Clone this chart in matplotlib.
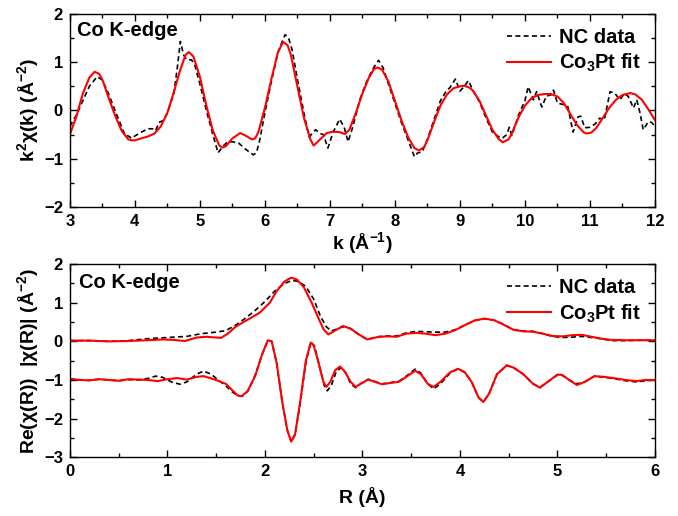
import matplotlib
matplotlib.use("Agg")
import matplotlib.pyplot as plt
from matplotlib import font_manager
from matplotlib.ticker import MultipleLocator

# buscar una sans con negrita real instalada
bold_family = 'DejaVu Sans'
for fam in ['Liberation Sans', 'Arimo', 'Roboto', 'Noto Sans', 'Open Sans', 'Lato']:
    if any(f.name == fam and f.weight in (700, 'bold') and f.style == 'normal'
           for f in font_manager.fontManager.ttflist):
        bold_family = fam
        break

plt.rcParams['font.family'] = [bold_family, 'DejaVu Sans']
plt.rcParams['font.weight'] = 'bold'
plt.rcParams['mathtext.fontset'] = 'custom'
plt.rcParams['mathtext.rm'] = bold_family + ':bold'
plt.rcParams['mathtext.bf'] = bold_family + ':bold'
plt.rcParams['mathtext.it'] = bold_family + ':bold'
plt.rcParams['mathtext.default'] = 'bf'

# ---- k-space: datos NC (negro) ----
k_data = [3.0, 3.1, 3.2, 3.3, 3.42, 3.5, 3.6, 3.7, 3.8, 3.85, 3.9, 3.95, 4.0, 4.1, 4.2,
          4.27, 4.32, 4.37, 4.45, 4.5, 4.6, 4.65, 4.7, 4.75, 4.8, 4.87, 4.92, 5.0, 5.1,
          5.2, 5.28, 5.35, 5.42, 5.5, 5.6, 5.7, 5.82, 5.87, 5.92, 6.0, 6.1, 6.2, 6.31,
          6.36, 6.42, 6.5, 6.6, 6.68, 6.78, 6.85, 6.9, 6.97, 7.05, 7.15, 7.22, 7.28,
          7.35, 7.46, 7.55, 7.62, 7.68, 7.75, 7.82, 7.9, 8.0, 8.1, 8.2, 8.3, 8.35, 8.42,
          8.5, 8.6, 8.7, 8.78, 8.85, 8.93, 9.0, 9.07, 9.13, 9.2, 9.3, 9.4, 9.5, 9.6,
          9.65, 9.72, 9.76, 9.8, 9.9, 10.0, 10.05, 10.13, 10.18, 10.26, 10.33, 10.4,
          10.44, 10.5, 10.6, 10.66, 10.74, 10.82, 10.86, 10.92, 11.0, 11.08, 11.15,
          11.22, 11.31, 11.38, 11.46, 11.53, 11.59, 11.67, 11.72, 11.77, 11.82, 11.9,
          11.95, 12.0]
chi_data = [-0.33, -0.1, 0.2, 0.5, 0.7, 0.63, 0.33, -0.02, -0.35, -0.52, -0.53, -0.58, -0.53,
            -0.45, -0.38, -0.38, -0.42, -0.25, -0.2, -0.05, 0.35, 0.85, 1.43, 1.15, 1.05,
            1.05, 0.95, 0.55, 0.0, -0.5, -0.88, -0.75, -0.66, -0.65, -0.68, -0.8, -0.92,
            -0.88, -0.62, -0.05, 0.6, 1.2, 1.57, 1.52, 1.25, 0.65, -0.05, -0.55, -0.4, -0.48,
            -0.5, -0.78, -0.45, -0.18, -0.35, -0.65, -0.35, 0.22, 0.55, 0.75, 0.9, 1.04,
            0.88, 0.55, 0.15, -0.25, -0.6, -0.96, -0.88, -0.86, -0.6, -0.2, 0.2, 0.38, 0.48,
            0.65, 0.4, 0.5, 0.62, 0.42, 0.18, -0.15, -0.45, -0.55, -0.58, -0.5, -0.35,
            -0.52, -0.1, 0.2, 0.49, 0.22, 0.39, 0.07, 0.3, 0.32, 0.42, 0.15, 0.12, 0.08,
            -0.45, -0.13, -0.12, -0.36, -0.35, -0.28, -0.16, -0.2, 0.39, 0.36, 0.22, 0.35,
            0.29, 0.05, 0.22, -0.05, -0.4, -0.23, -0.25, -0.33]

# ---- k-space: ajuste Co3Pt (rojo) ----
k_fit = [3.0, 3.1, 3.2, 3.3, 3.38, 3.45, 3.5, 3.6, 3.7, 3.8, 3.9, 3.95, 4.0, 4.1, 4.2, 4.3,
         4.4, 4.5, 4.6, 4.7, 4.78, 4.83, 4.9, 5.0, 5.1, 5.2, 5.3, 5.35, 5.4, 5.5, 5.62,
         5.7, 5.8, 5.85, 5.9, 6.0, 6.1, 6.2, 6.28, 6.35, 6.4, 6.5, 6.6, 6.7, 6.75, 6.85,
         6.95, 7.05, 7.15, 7.23, 7.3, 7.4, 7.5, 7.6, 7.68, 7.73, 7.8, 7.9, 8.0, 8.1, 8.2,
         8.3, 8.37, 8.45, 8.5, 8.6, 8.7, 8.8, 8.9, 9.0, 9.07, 9.15, 9.2, 9.3, 9.4, 9.5,
         9.6, 9.66, 9.75, 9.8, 9.9, 10.0, 10.1, 10.2, 10.3, 10.4, 10.5, 10.6, 10.7, 10.8,
         10.9, 10.95, 11.02, 11.1, 11.2, 11.3, 11.4, 11.5, 11.62, 11.7, 11.8, 11.9, 12.0]
chi_fit = [-0.5, -0.13, 0.35, 0.68, 0.8, 0.76, 0.64, 0.25, -0.12, -0.43, -0.6, -0.62, -0.62,
           -0.58, -0.54, -0.48, -0.33, -0.05, 0.38, 0.85, 1.15, 1.21, 1.12, 0.7, 0.1, -0.42,
           -0.73, -0.77, -0.74, -0.58, -0.47, -0.52, -0.6, -0.58, -0.45, 0.05, 0.65, 1.2,
           1.42, 1.35, 1.15, 0.5, -0.15, -0.6, -0.73, -0.6, -0.47, -0.44, -0.45, -0.49,
           -0.4, -0.05, 0.35, 0.68, 0.86, 0.89, 0.85, 0.6, 0.2, -0.2, -0.55, -0.78, -0.83,
           -0.76, -0.62, -0.25, 0.1, 0.33, 0.46, 0.5, 0.51, 0.47, 0.41, 0.2, -0.1, -0.4,
           -0.6, -0.66, -0.6, -0.47, -0.15, 0.1, 0.25, 0.32, 0.34, 0.34, 0.29, 0.15, -0.08,
           -0.3, -0.45, -0.48, -0.46, -0.36, -0.15, 0.06, 0.22, 0.32, 0.36, 0.33, 0.22,
           0.02, -0.2]

# ---- R-space: |chi(R)| ----
r_mag_data = [0.0, 0.2, 0.4, 0.6, 0.8, 1.0, 1.2, 1.35, 1.5, 1.6, 1.7, 1.8, 1.9, 2.0, 2.1,
              2.2, 2.28, 2.35, 2.42, 2.5, 2.57, 2.63, 2.68, 2.75, 2.8, 2.88, 2.95, 3.05,
              3.15, 3.25, 3.35, 3.45, 3.55, 3.65, 3.75, 3.85, 3.95, 4.05, 4.15, 4.25, 4.35,
              4.45, 4.55, 4.65, 4.75, 4.85, 4.95, 5.05, 5.15, 5.25, 5.35, 5.45, 5.55, 5.7,
              5.85, 6.0]
mag_data = [0.02, 0.02, 0.0, 0.02, 0.07, 0.1, 0.13, 0.2, 0.24, 0.28, 0.42, 0.6, 0.8, 1.03,
            1.3, 1.5, 1.58, 1.55, 1.42, 1.1, 0.65, 0.38, 0.27, 0.33, 0.38, 0.33, 0.2, 0.05,
            0.12, 0.14, 0.14, 0.22, 0.26, 0.25, 0.24, 0.24, 0.3, 0.42, 0.54, 0.59, 0.55,
            0.44, 0.3, 0.27, 0.26, 0.2, 0.13, 0.1, 0.11, 0.13, 0.1, 0.07, 0.02, 0.02, 0.03,
            0.03]
r_mag_fit = [0.0, 0.2, 0.4, 0.6, 0.8, 0.95, 1.05, 1.18, 1.3, 1.4, 1.5, 1.55, 1.62, 1.7,
             1.78, 1.85, 1.95, 2.05, 2.12, 2.2, 2.27, 2.33, 2.4, 2.48, 2.55, 2.6, 2.65,
             2.72, 2.8, 2.88, 2.95, 3.05, 3.15, 3.25, 3.35, 3.45, 3.55, 3.65, 3.75, 3.85,
             3.95, 4.05, 4.15, 4.25, 4.35, 4.45, 4.55, 4.65, 4.75, 4.85, 4.95, 5.05, 5.15,
             5.25, 5.35, 5.45, 5.55, 5.7, 5.85, 6.0]
mag_fit = [0.02, 0.02, 0.0, 0.01, 0.03, 0.05, 0.04, 0.01, 0.1, 0.12, 0.1, 0.09, 0.2, 0.38,
           0.5, 0.6, 0.75, 1.0, 1.3, 1.55, 1.65, 1.6, 1.4, 1.0, 0.6, 0.32, 0.18, 0.28, 0.4,
           0.33, 0.2, 0.05, 0.11, 0.13, 0.12, 0.2, 0.22, 0.2, 0.16, 0.2, 0.29, 0.42, 0.54,
           0.59, 0.55, 0.43, 0.3, 0.26, 0.25, 0.2, 0.14, 0.13, 0.16, 0.17, 0.12, 0.07, 0.04,
           0.03, 0.03, 0.03]

# ---- R-space: Re(chi(R)), desplazado -1 ----
r_re_data = [0.0, 0.1, 0.2, 0.3, 0.4, 0.5, 0.6, 0.7, 0.8, 0.88, 0.95, 1.05, 1.13, 1.2, 1.3,
             1.37, 1.45, 1.52, 1.6, 1.66, 1.73, 1.77, 1.83, 1.9, 1.97, 2.03, 2.07, 2.12,
             2.18, 2.23, 2.27, 2.31, 2.36, 2.42, 2.47, 2.51, 2.56, 2.61, 2.64, 2.68, 2.73,
             2.78, 2.83, 2.88, 2.93, 2.98, 3.06, 3.13, 3.2, 3.28, 3.37, 3.45, 3.54, 3.6,
             3.67, 3.73, 3.8, 3.9, 3.98, 4.05, 4.12, 4.19, 4.24, 4.3, 4.38, 4.48, 4.55,
             4.65, 4.75, 4.82, 4.9, 5.0, 5.05, 5.12, 5.2, 5.28, 5.38, 5.48, 5.57, 5.7,
             5.81, 5.9, 6.0]
re_data = [-0.97, -1.0, -1.01, -0.98, -1.0, -1.02, -0.99, -1.0, -0.96, -0.9, -0.93, -1.06,
           -1.11, -1.05, -0.85, -0.77, -0.85, -1.0, -1.15, -1.3, -1.42, -1.42, -1.27, -0.88,
           -0.35, 0.02, 0.0, -0.55, -1.6, -2.3, -2.6, -2.42, -1.65, -0.55, -0.02, -0.12,
           -0.65, -1.15, -1.28, -1.15, -0.8, -0.68, -0.82, -1.1, -1.2, -1.1, -0.98, -1.04,
           -1.1, -1.07, -1.04, -0.9, -0.72, -0.82, -1.1, -1.23, -1.1, -0.82, -0.71, -0.8,
           -1.05, -1.45, -1.57, -1.35, -0.85, -0.62, -0.68, -0.85, -1.1, -1.19, -1.05,
           -0.87, -0.88, -1.0, -1.1, -1.05, -0.9, -0.93, -0.96, -1.02, -1.05, -1.02, -1.0]
r_re_fit = [0.0, 0.1, 0.2, 0.3, 0.4, 0.5, 0.6, 0.7, 0.8, 0.9, 1.0, 1.1, 1.2, 1.3, 1.37, 1.45,
            1.52, 1.6, 1.66, 1.72, 1.76, 1.82, 1.9, 1.97, 2.03, 2.07, 2.12, 2.18, 2.23,
            2.27, 2.31, 2.36, 2.42, 2.47, 2.5, 2.55, 2.6, 2.63, 2.67, 2.72, 2.77, 2.82,
            2.88, 2.93, 2.98, 3.06, 3.13, 3.2, 3.28, 3.37, 3.45, 3.54, 3.6, 3.67, 3.73,
            3.8, 3.9, 3.98, 4.05, 4.12, 4.19, 4.24, 4.3, 4.38, 4.48, 4.55, 4.65, 4.75,
            4.82, 4.9, 5.0, 5.05, 5.12, 5.2, 5.28, 5.38, 5.48, 5.57, 5.7, 5.81, 5.9, 6.0]
re_fit = [-0.97, -1.0, -1.01, -0.98, -1.0, -1.02, -0.98, -0.99, -1.0, -1.03, -0.98, -0.95,
          -0.99, -0.92, -0.9, -0.96, -1.02, -1.1, -1.25, -1.4, -1.42, -1.3, -0.9, -0.35,
          0.03, 0.0, -0.55, -1.6, -2.3, -2.6, -2.4, -1.6, -0.5, -0.03, -0.1, -0.55, -1.05,
          -1.18, -1.05, -0.75, -0.65, -0.78, -1.05, -1.18, -1.1, -0.99, -1.05, -1.11,
          -1.08, -1.05, -0.92, -0.76, -0.85, -1.1, -1.18, -1.05, -0.8, -0.71, -0.8, -1.05,
          -1.45, -1.57, -1.35, -0.85, -0.62, -0.68, -0.85, -1.1, -1.2, -1.05, -0.86,
          -0.87, -1.0, -1.13, -1.05, -0.9, -0.92, -0.95, -1.0, -1.03, -1.0, -1.0]

FS_TICK = 12
FS_LABEL = 14
FS_TEXT = 14.5

fig = plt.figure(figsize=(6.78, 5.16), dpi=100)
ax1 = fig.add_axes([0.103, 0.599, 0.863, 0.374])
ax2 = fig.add_axes([0.103, 0.114, 0.863, 0.374])

dash = (0, (3, 2))
for ax in (ax1, ax2):
    ax.tick_params(which='both', direction='in', top=True, right=True,
                   labelsize=FS_TICK, width=1.0, pad=5)
    ax.tick_params(which='major', length=5)
    ax.tick_params(which='minor', length=3)
    for s in ax.spines.values():
        s.set_linewidth(1.0)
    ax.yaxis.set_major_locator(MultipleLocator(1))
    ax.yaxis.set_minor_locator(MultipleLocator(0.5))
    ax.xaxis.set_major_locator(MultipleLocator(1))
    ax.xaxis.set_minor_locator(MultipleLocator(0.5))

# panel superior: k-space
ax1.plot(k_data, chi_data, color='black', linestyle=dash, linewidth=1.2, label='NC data')
ax1.plot(k_fit, chi_fit, color='red', linewidth=1.5, label=r'Co$_{3}$Pt fit')
ax1.set_xlim(3, 12)
ax1.set_ylim(-2, 2)
ax1.set_xlabel(r'k (Å$^{-1}$)', fontsize=FS_LABEL, fontweight='bold', labelpad=1)
ax1.set_ylabel(r'k$^{2}$χ(k) (Å$^{-2}$)', fontsize=FS_LABEL, fontweight='bold', labelpad=2)
ax1.text(0.012, 0.965, 'Co K-edge', transform=ax1.transAxes, ha='left', va='top',
         fontsize=FS_TEXT, fontweight='bold')
ax1.legend(loc='upper right', frameon=False, fontsize=FS_TEXT, handlelength=2.2,
           handletextpad=0.4, labelspacing=0.25, borderaxespad=0.3)

# panel inferior: R-space
ax2.plot(r_mag_data, mag_data, color='black', linestyle=dash, linewidth=1.2, label='NC data')
ax2.plot(r_re_data, re_data, color='black', linestyle=dash, linewidth=1.2)
ax2.plot(r_mag_fit, mag_fit, color='red', linewidth=1.5, label=r'Co$_{3}$Pt fit')
ax2.plot(r_re_fit, re_fit, color='red', linewidth=1.5)
ax2.set_xlim(0, 6)
ax2.set_ylim(-3, 2)
ax2.set_xlabel('R (Å)', fontsize=FS_LABEL, fontweight='bold', labelpad=6)
ax2.set_ylabel(r'Re(χ(R))  |χ(R)| (Å$^{-2}$)', fontsize=FS_LABEL, fontweight='bold',
               labelpad=2)
ax2.text(0.015, 0.955, 'Co K-edge', transform=ax2.transAxes, ha='left', va='top',
         fontsize=FS_TEXT, fontweight='bold')
ax2.legend(loc='upper right', frameon=False, fontsize=FS_TEXT, handlelength=2.2,
           handletextpad=0.4, labelspacing=0.25, borderaxespad=0.3)

for ax in (ax1, ax2):
    for lbl in ax.get_xticklabels() + ax.get_yticklabels():
        lbl.set_fontweight('bold')

fig.savefig('out.png', dpi=100)
